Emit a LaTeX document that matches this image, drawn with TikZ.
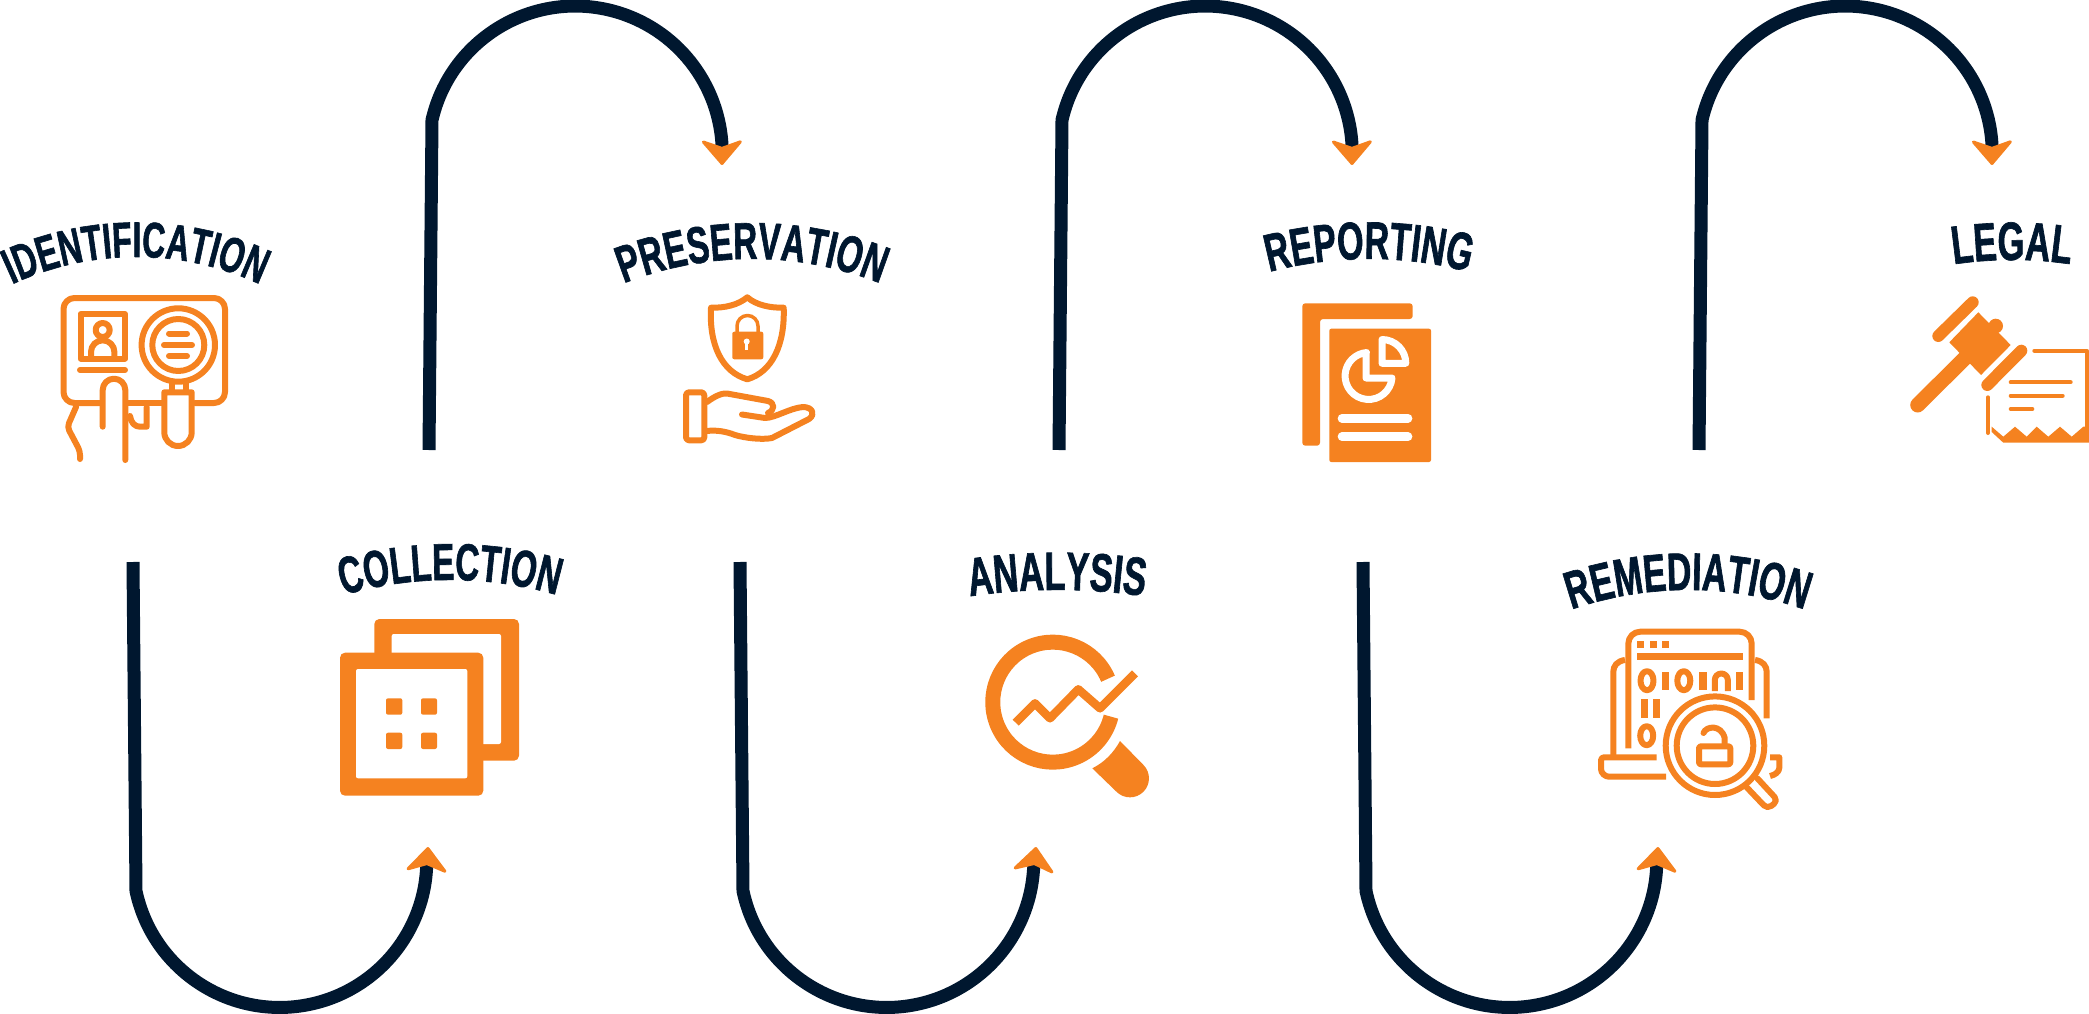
\documentclass[tikz,border=0pt]{standalone}
\usepackage{fontspec}
\usepackage{tikz}
\usetikzlibrary{arrows.meta,decorations.text}
\newfontfamily\stepfont{Liberation Sans Bold}[FakeStretch=.64,FakeBold=1.2]
\definecolor{stepnavy}{HTML}{00172F}
\definecolor{steporange}{HTML}{F58220}
\tikzset{
  flowline/.style={draw=stepnavy,line width=13pt,
    -{Stealth[length=27pt,width=46pt,inset=8pt,line width=3pt,round,color=steporange]}},
  iconline/.style={draw=steporange,line width=6pt,line cap=round,line join=round},
  iconfill/.style={fill=steporange},
  whiteline/.style={draw=white,line width=7pt,line cap=round,line join=round},
}
% center x, top of the baseline, radius, font size, text
\newcommand{\steplabel}[5]{%
  \path[decorate,decoration={text along path,text align=center,
    text={|\fontsize{#4}{#4}\stepfont\color{stepnavy}|#5}}]
    ({#1},{#2+#3}) ++(-150:#3) arc[start angle=-150,end angle=-30,radius=#3];}

\begin{document}
\begin{tikzpicture}[x=1pt,y=-1pt]
  \useasboundingbox (0,0) rectangle (2089,1014);

  % upper arrows
  \coordinate (idtail) at (429,450);
  \coordinate (idbend) at (432,120);
  \coordinate (idhead) at (722,165);
  \draw[flowline] (idtail) -- (idbend) arc[start angle=193,end angle=356,radius=147] -- (idhead);
  \coordinate (pretail) at (1059,450);
  \coordinate (prebend) at (1062,120);
  \coordinate (prehead) at (1352,165);
  \draw[flowline] (pretail) -- (prebend) arc[start angle=193,end angle=356,radius=147] -- (prehead);
  \coordinate (reptail) at (1699,450);
  \coordinate (repbend) at (1702,120);
  \coordinate (rephead) at (1992,165);
  \draw[flowline] (reptail) -- (repbend) arc[start angle=193,end angle=356,radius=147] -- (rephead);
  % lower arrows
  \coordinate (coltail) at (133,562);
  \coordinate (colbend) at (136,891);
  \coordinate (colhead) at (428,847);
  \draw[flowline] (coltail) -- (colbend) arc[start angle=168,end angle=4,radius=147] -- (colhead);
  \coordinate (anatail) at (740,562);
  \coordinate (anabend) at (743,891);
  \coordinate (anahead) at (1036,847);
  \draw[flowline] (anatail) -- (anabend) arc[start angle=168,end angle=4,radius=147] -- (anahead);
  \coordinate (remtail) at (1363,562);
  \coordinate (rembend) at (1366,891);
  \coordinate (remhead) at (1658,847);
  \draw[flowline] (remtail) -- (rembend) arc[start angle=168,end angle=4,radius=147] -- (remhead);

  % labels
  \steplabel{136}{257}{294}{50}{IDENTIFICATION}
  \steplabel{752}{259}{349}{52}{PRESERVATION}
  \steplabel{1369}{259}{390}{53}{REPORTING}
  \steplabel{2012}{260}{400}{54}{LEGAL}
  \steplabel{450}{580}{386}{52}{COLLECTION}
  \steplabel{1057}{590}{600}{54}{ANALYSIS}
  \steplabel{1688}{590}{357}{53}{REMEDIATION}

  % identification icon
  \draw[iconline,rounded corners=11pt] (100,403) -- (63.5,403) -- (63.5,298) -- (225,298) -- (225,403) -- (195,403);
  \draw[iconline] (128,403) -- (162,403);
  \draw[iconline,line cap=butt] (80.5,314) rectangle (125,358.5);
  \draw[iconline] (102.7,330) circle[radius=7];
  \draw[iconline,line cap=butt] (91,358) -- (91,352) arc[start angle=180,end angle=360,radius=11.7] -- (114.4,358);
  \draw[iconline] (80,370) -- (125,370);
  \draw[iconline] (178.3,345) circle[radius=36.7];
  \draw[iconline] (178.3,345) circle[radius=26];
  \draw[iconline] (169,333.5) -- (187,333.5);
  \draw[iconline] (164,345) -- (192,345);
  \draw[iconline] (169,356) -- (187,356);
  \draw[iconline,line cap=butt] (172,382) -- (172,392) (186,382) -- (186,392);
  \draw[iconline] (164.3,392.3) -- (191.7,392.3) -- (191.7,432.3) arc[start angle=0,end angle=180,radius=13.7] -- cycle;
  \draw[iconline] (102.7,426.7) -- (102.7,390) arc[start angle=180,end angle=360,radius=11.3] -- (125.3,460);
  \draw[iconline,rounded corners=4pt] (76,407) -- (67.3,427) -- (80,451) -- (80,459);
  \draw[iconline] (130,416) .. controls (131,423) and (135,426.7) .. (140,426.7) -- (146.7,426.7) -- (146.7,407);

  % preservation icon
  \draw[iconline] (711,307.7) .. controls (725,308) and (738,305) .. (747.3,297.3)
    .. controls (756,305) and (770,308) .. (783.7,307.7)
    .. controls (785,345) and (772,372) .. (747.3,379.3)
    .. controls (722,372) and (709,345) .. cycle;
  \fill[iconfill,rounded corners=2pt] (732.3,331.7) rectangle (763.3,359.3);
  \draw[iconline,line width=3.5pt] (737,332) -- (737,326) arc[start angle=180,end angle=360,radius=10.5] -- (758,332);
  \fill[white] (746.7,341.5) circle[radius=3];
  \fill[white] (745.3,342) rectangle (748.1,350);
  \draw[iconline,rounded corners=3pt] (686,392.3) rectangle (704.3,440.3);
  \draw[iconline] (707,402) .. controls (715,396) and (722,393) .. (727,393.5) -- (768,401)
    .. controls (775,403) and (775,410) .. (768,413);
  \draw[iconline] (742,414.5) -- (765,418) .. controls (775,418) and (790,408) .. (803,407)
    .. controls (812,407) and (816,414) .. (809,419) -- (772,438)
    .. controls (762,440) and (745,438) .. (735,435) .. controls (725,431) and (715,430) .. (707,431);

  % reporting icon
  \fill[iconfill,rounded corners=3pt] (1302.3,303.3) -- (1412.7,303.3) -- (1412.7,319) -- (1320,319) -- (1320,445.7) -- (1302.3,445.7) -- cycle;
  \fill[iconfill,rounded corners=2pt] (1329.3,328.7) rectangle (1431,462);
  \draw[whiteline] (1366,352.6) -- (1366,378) -- (1392,378) arc[start angle=5,end angle=265,radius=23.5];
  \draw[whiteline] (1382,363.3) -- (1382,339.5) arc[start angle=270,end angle=360,radius=23.8] -- cycle;
  \draw[whiteline,line width=8.7pt] (1342,418.3) -- (1408,418.3);
  \draw[whiteline,line width=8.7pt] (1342,436.7) -- (1408,436.7);

  % legal icon
  \fill[iconfill] (1978.3,312.3) -- (2010.7,345) -- (1981,375) -- (1949.3,342.3) -- cycle;
  \fill[iconfill] (1995.7,326) circle[radius=7.3];
  \draw[iconline,line width=12pt] (1938.3,336) -- (1972.7,302.3);
  \draw[iconline,line width=12pt] (1987.3,385) -- (2021.3,350.7);
  \draw[iconline,line width=15pt] (1965,358) -- (1917.7,405);
  \draw[iconline,line width=4pt] (2034.3,350.7) -- (2086.7,350.7) -- (2086.7,430);
  \draw[iconline,line width=4pt] (1988,397.3) -- (1988,433);
  \fill[iconfill] (1991.7,426.7) -- (2003.3,436.7) -- (2015,426.7) -- (2026.7,436.7) -- (2036.7,426.7) -- (2048.3,436.7) -- (2060,426.7) -- (2071.7,436.7) -- (2083.3,426.7) -- (2089,426.7) -- (2089,442.7) -- (2003.3,442.7) -- (1991.7,432) -- cycle;
  \draw[iconline,line width=4pt] (2010.7,382.3) -- (2070.7,382.3);
  \draw[iconline,line width=4pt] (2010.7,395.7) -- (2062.7,395.7);
  \draw[iconline,line width=4pt] (2010.7,409) -- (2032.3,409);

  % collection icon
  \fill[iconfill,rounded corners=5pt] (374.3,619) rectangle (519,760.7);
  \fill[white,rounded corners=2pt] (391.7,634) rectangle (501,744);
  \fill[iconfill,rounded corners=5pt] (340,652.7) rectangle (483.3,795.7);
  \fill[white,rounded corners=2pt] (356,669) rectangle (467.3,778.3);
  \fill[iconfill,rounded corners=2pt] (386,698.3) rectangle (402.3,714.7);
  \fill[iconfill,rounded corners=2pt] (421,698.3) rectangle (437,714.7);
  \fill[iconfill,rounded corners=2pt] (386,732.7) rectangle (402.3,749);
  \fill[iconfill,rounded corners=2pt] (421,732.7) rectangle (437,749);

  % analysis icon
  \draw[iconline,line width=15pt,line cap=butt] (1108,678.7) arc[start angle=337,end angle=14,radius=60];
  \draw[iconline,line width=8.5pt,line cap=butt] (1015.7,722.7) -- (1035,703.3) -- (1050,718.3) -- (1078.3,689.3) -- (1100,708.3) -- (1135,673.3);
  \fill[iconfill] (1120,741) -- (1143.4,764.9) arc[start angle=-45,end angle=135,radius=19] -- (1092.3,768.3) .. controls (1105,762) and (1114,752) .. cycle;

  % remediation icon
  \draw[iconline,line cap=butt,rounded corners=12pt] (1628.3,748.3) -- (1628.3,631.7) -- (1751.7,631.7) -- (1751.7,700);
  \fill[iconfill] (1637.2,641.2) rectangle +(7,7);
  \fill[iconfill] (1649.8,641.2) rectangle +(7,7);
  \fill[iconfill] (1662.2,641.2) rectangle +(7,7);
  \draw[iconline,line width=7pt,line cap=butt] (1637.3,656.3) -- (1742.7,656.3);
  \draw[iconline] (1647,680.7) ellipse[x radius=6.5,y radius=9.5];
  \fill[iconfill] (1661.7,671.7) rectangle (1669,690);
  \draw[iconline] (1683.8,680.7) ellipse[x radius=6.5,y radius=9.5];
  \fill[iconfill] (1699,671.7) rectangle (1706.7,690);
  \draw[iconline,line cap=butt] (1714.8,691) -- (1714.8,680) arc[start angle=180,end angle=360,radius=6.5] -- (1727.8,691);
  \fill[iconfill] (1736,671.7) rectangle (1742.7,690);
  \fill[iconfill] (1640.7,699) rectangle (1647.7,718.3);
  \fill[iconfill] (1652.7,699) rectangle (1660,718.3);
  \draw[iconline] (1646.7,735.7) ellipse[x radius=6.5,y radius=9.5];
  \draw[iconline,line cap=butt] (1625,660) .. controls (1617,661) and (1613.3,666) .. (1613.3,672) -- (1613.3,757);
  \draw[iconline,line cap=butt,rounded corners=3pt] (1656.7,757.3) -- (1601,757.3) -- (1601,766) .. controls (1601,773) and (1605,776.7) .. (1612,776.7) -- (1666,776.7);
  \draw[iconline,line cap=butt] (1755,660) .. controls (1763,661) and (1766.7,666) .. (1766.7,672) -- (1766.7,718.3);
  \draw[iconline,line cap=butt] (1770,757.3) -- (1779.3,757.3) -- (1779.3,768) .. controls (1779,772) and (1775,775) .. (1770,776);
  \draw[iconline,fill=white] (1715,745.7) circle[radius=49.3];
  \draw[iconline] (1715,745.7) circle[radius=38.3];
  \draw[iconline,rounded corners=2pt] (1699,746.3) rectangle (1730.3,764.3);
  \draw[iconline] (1703.5,733) .. controls (1706,726) and (1721,724) .. (1724.7,738) -- (1724.7,746);
  \draw[iconline,rounded corners=5pt] (1746.7,787.3) -- (1767.3,809) -- (1778,800.7) -- (1757.3,778.3);
\end{tikzpicture}
\end{document}
